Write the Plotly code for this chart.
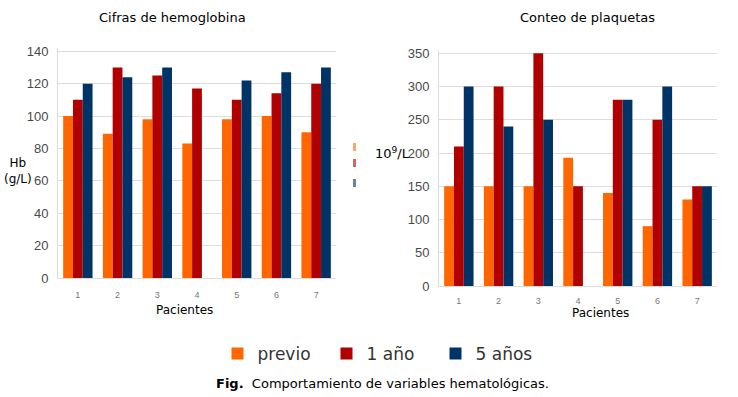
import plotly.graph_objects as go

pacientes = ["1", "2", "3", "4", "5", "6", "7"]
series_names = ["previo", "1 año", "5 años"]
hb_previo = [100, 89, 98, 83, 98, 100, 90]
hb_1ano = [110, 130, 125, 117, 110, 114, 120]
hb_5anos = [120, 124, 130, None, 122, 127, 130]
pl_previo = [150, 150, 150, 193, 140, 90, 130]
pl_1ano = [210, 300, 350, 150, 280, 250, 150]
pl_5anos = [300, 240, 250, None, 280, 300, 150]
hb_ticks = [0, 20, 40, 60, 80, 100, 120, 140]
pl_ticks = [0, 50, 100, 150, 200, 250, 300, 350]

colors = ["#FF6600", "#B00000", "#003366"]
W, H = 738, 397

fig = go.Figure()
for i, (name, vals) in enumerate(zip(series_names, [hb_previo, hb_1ano, hb_5anos])):
    fig.add_trace(go.Bar(x=pacientes, y=vals, name=name, marker_color=colors[i],
                         marker_line_width=0, xaxis="x", yaxis="y", legendgroup=name))
for i, (name, vals) in enumerate(zip(series_names, [pl_previo, pl_1ano, pl_5anos])):
    fig.add_trace(go.Bar(x=pacientes, y=vals, name=name, marker_color=colors[i],
                         marker_line_width=0, xaxis="x2", yaxis="y2", legendgroup=name,
                         showlegend=False))

def px(x):
    return x / W

def py(y):
    return 1 - y / H

tickfont_y = dict(family="Liberation Sans Narrow, Liberation Sans, Arial", size=13, color="#4a4a4a")
tickfont_x = dict(family="Liberation Sans, Arial", size=9, color="#777777")
grid = "#DDDDDD"

fig.update_layout(
    width=W, height=H, margin=dict(l=0, r=0, t=0, b=0, autoexpand=False),
    paper_bgcolor="white", plot_bgcolor="white",
    barmode="group", bargap=0.26, bargroupgap=0,
    font=dict(family="DejaVu Sans"),
    xaxis=dict(domain=[px(58), px(336)], anchor="y", tickfont=tickfont_x,
               showgrid=False, showline=True, linecolor=grid, ticks="",
               ticklabelstandoff=8),
    yaxis=dict(domain=[py(278), py(48)], anchor="x", range=[0, 142],
               tickvals=hb_ticks, tickfont=tickfont_y, gridcolor=grid,
               showline=True, linecolor=grid, zeroline=False, ticklabelstandoff=6),
    xaxis2=dict(domain=[px(439), px(717)], anchor="y2", tickfont=tickfont_x,
                showgrid=False, showline=True, linecolor=grid, ticks="",
                ticklabelstandoff=6),
    yaxis2=dict(domain=[py(286), py(50)], anchor="x2", range=[0, 355],
                tickvals=pl_ticks, tickfont=tickfont_y, gridcolor=grid,
                showline=True, linecolor=grid, zeroline=False, ticklabelstandoff=6),
    legend=dict(orientation="h", x=px(381), xanchor="center", y=py(354), yanchor="middle",
                font=dict(family="DejaVu Sans", size=17, color="#333333"),
                entrywidth=64, itemwidth=30, traceorder="normal"),
)

ann = [
    dict(x=px(172), y=py(17), text="Cifras de hemoglobina", size=13),
    dict(x=px(587), y=py(17), text="Conteo de plaquetas", size=13),
    dict(x=px(185), y=py(310), text="Pacientes", size=12),
    dict(x=px(600), y=py(313), text="Pacientes", size=12),
    dict(x=px(18), y=py(171), text="Hb<br>(g/L)", size=12),
    dict(x=px(393), y=py(153), text="10<sup>9</sup>/L", size=13),
    dict(x=px(382), y=py(383), text="<b>Fig.</b>  Comportamiento de variables hematológicas.", size=13),
]
for a in ann:
    fig.add_annotation(x=a["x"], y=a["y"], xref="paper", yref="paper", text=a["text"],
                       showarrow=False, xanchor="center", yanchor="middle",
                       font=dict(family="DejaVu Sans", size=a["size"], color="#000000"))

# clipped legend remnants at right edge of left chart
for yy, c in zip([147, 163, 183], colors):
    fig.add_shape(type="rect", xref="paper", yref="paper", x0=px(353), x1=px(356),
                  y0=py(yy + 4), y1=py(yy - 4), fillcolor=c, line_width=0, opacity=0.6)

fig.write_html("out.html", config={"displayModeBar": False},
               post_script="document.body.style.margin='0';")
